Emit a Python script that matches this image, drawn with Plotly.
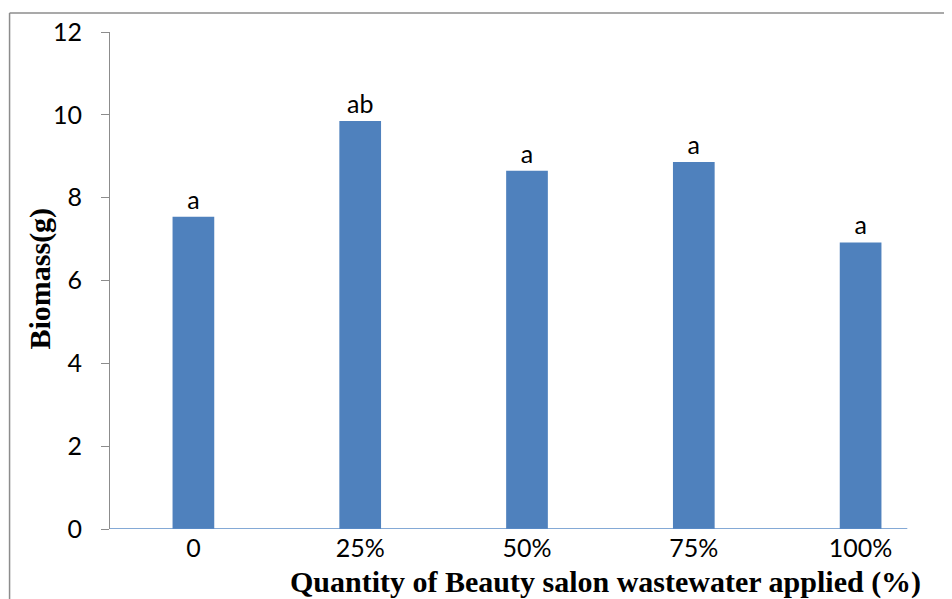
import plotly.graph_objects as go

categories = ["0", "25%", "50%", "75%", "100%"]
biomass = [7.54, 9.85, 8.65, 8.86, 6.92]
letters = ["a", "ab", "a", "a", "a"]
y_ticks = [0, 2, 4, 6, 8, 10, 12]

# page has an 8px body margin; work in page pixels and convert
OFF = 8
W, H = 952 - OFF, 599 - OFF
PL, PR, PT, PB = 110, 944.5, 29, 529   # plot area in page pixels
L = PL - OFF
T = PT - OFF
R = W - (PR - OFF)
B = H - (PB - OFF)
pw = PR - PL
ph = PB - PT

def px_x(p):
    return (p - PL) / pw

def px_y(p):
    return (PB - p) / ph

xpos = list(range(len(categories)))

fig = go.Figure()
fig.add_trace(go.Bar(
    x=xpos, y=biomass,
    marker=dict(color="#4F81BD", line=dict(width=0)),
    text=letters, textposition="outside",
    textfont=dict(family="Lato", size=25, color="black"),
    cliponaxis=False,
    width=0.25,
))

# axis line along the bottom (blue)
fig.add_shape(type="line", xref="x", yref="y", x0=-0.5, x1=4.28, y0=0, y1=0,
              line=dict(color="#5B8CC8", width=1.5), layer="above")
# outer frame (left and top)
fx = px_x(9.5)
fy = px_y(10)
fig.add_shape(type="line", xref="paper", yref="paper", x0=fx, x1=fx, y0=px_y(605), y1=fy,
              line=dict(color="#8C8C8C", width=1.5))
fig.add_shape(type="line", xref="paper", yref="paper", x0=fx, x1=px_x(960), y0=fy, y1=fy,
              line=dict(color="#8C8C8C", width=1.5))

fig.add_annotation(text="<b>Quantity of Beauty salon wastewater applied (%)</b>",
                   xref="paper", yref="paper", x=px_x(606), y=px_y(582),
                   xanchor="center", yanchor="middle", showarrow=False,
                   font=dict(family="Liberation Serif", size=30, color="black"))
fig.add_annotation(text="<b>Biomass(g)</b>",
                   xref="paper", yref="paper", x=px_x(39), y=px_y(277),
                   xanchor="center", yanchor="middle", showarrow=False, textangle=-90,
                   font=dict(family="Liberation Serif", size=30, color="black"))

fig.update_layout(
    width=W, height=H,
    margin=dict(l=L, r=R, t=T, b=B, pad=0),
    paper_bgcolor="white", plot_bgcolor="white",
    showlegend=False,
    bargap=0.75,
)
fig.update_xaxes(
    range=[-0.5, 4.5], tickmode="array", tickvals=xpos, ticktext=categories,
    showline=False, showgrid=False, zeroline=False, ticks="",
    tickfont=dict(family="Lato", size=25, color="black"),
    ticklabelstandoff=2,
)
fig.update_yaxes(
    range=[0, 12], tickmode="array", tickvals=y_ticks,
    showline=True, linecolor="#8C8C8C", linewidth=1.2,
    ticks="outside", ticklen=8, tickcolor="#8C8C8C", tickwidth=1.2,
    showgrid=False, zeroline=False,
    tickfont=dict(family="Lato", size=25, color="black"),
    ticklabelstandoff=14,
)

fig.write_html("out.html")
